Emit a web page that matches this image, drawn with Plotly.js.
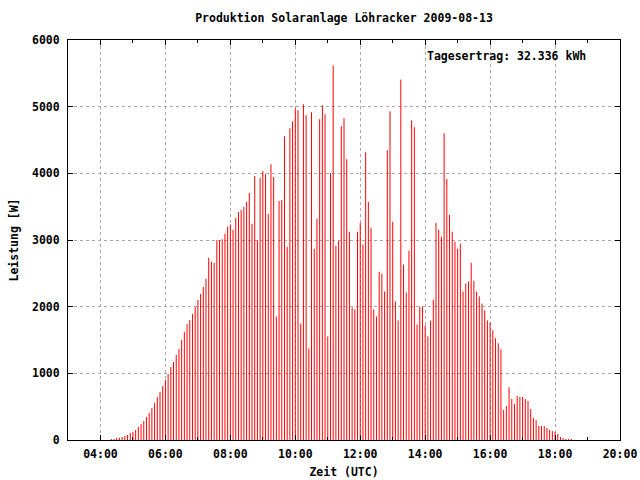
<!DOCTYPE html>
<html><head><meta charset="utf-8">
<script src="https://cdn.plot.ly/plotly-3.0.1.min.js"></script>
<style>html,body{margin:0;padding:0;background:#fff}#chart{width:640px;height:480px}</style>
</head><body><div id="chart"></div>
<script>
const day = '2009-08-13 ';
const times = [
'04:20','04:25','04:30','04:35','04:40','04:45','04:50','04:55',
'05:00','05:05','05:10','05:15','05:20','05:25','05:30','05:35','05:40','05:45','05:50','05:55',
'06:00','06:05','06:10','06:15','06:20','06:25','06:30','06:35','06:40','06:45','06:50','06:55',
'07:00','07:05','07:10','07:15','07:20','07:25','07:30','07:35','07:40','07:45','07:50','07:55',
'08:00','08:05','08:10','08:15','08:20','08:25','08:30','08:35','08:40','08:45','08:50','08:55',
'09:00','09:05','09:10','09:15','09:20','09:25','09:30','09:35','09:40','09:45','09:50','09:55',
'10:00','10:05','10:10','10:15','10:20','10:25','10:30','10:35','10:40','10:45','10:50','10:55',
'11:00','11:05','11:10','11:15','11:20','11:25','11:30','11:35','11:40','11:45','11:50','11:55',
'12:00','12:05','12:10','12:15','12:20','12:25','12:30','12:35','12:40','12:45','12:50','12:55',
'13:00','13:05','13:10','13:15','13:20','13:25','13:30','13:35','13:40','13:45','13:50','13:55',
'14:00','14:05','14:10','14:15','14:20','14:25','14:30','14:35','14:40','14:45','14:50','14:55',
'15:00','15:05','15:10','15:15','15:20','15:25','15:30','15:35','15:40','15:45','15:50','15:55',
'16:00','16:05','16:10','16:15','16:20','16:25','16:30','16:35','16:40','16:45','16:50','16:55',
'17:00','17:05','17:10','17:15','17:20','17:25','17:30','17:35','17:40','17:45','17:50','17:55',
'18:00','18:05','18:10','18:15','18:20','18:25','18:30'
];
const power = [
15,15,30,35,45,60,75,105,
120,150,195,240,285,345,405,480,555,645,720,810,
900,990,1095,1170,1275,1365,1500,1620,1740,1800,1890,1995,
2100,2190,2295,2420,2734,2674,2659,2998,2998,3013,3093,3197,
3232,3152,3332,3421,3451,3496,3571,3705,3242,3959,2998,3929,
4034,3989,3391,4138,3944,1853,3586,3601,4557,2898,4676,4781,
4975,4945,1748,5035,4870,1374,4915,2868,3317,4811,5020,4885,
1554,4004,5617,2913,2988,4706,4826,4213,3122,1987,1957,3122,
3257,2928,4318,3571,3182,1957,1853,2525,2495,2226,4348,4930,
3272,2077,1793,5408,2629,2211,2839,4796,4691,1733,1997,1997,
1718,1554,1793,2107,3257,3152,3048,4602,3914,3376,3122,2973,
2868,2943,2226,2346,2376,2659,2390,2226,2151,2047,1942,1793,
1766,1647,1527,1452,1362,449,509,793,614,539,659,644,
644,614,584,464,329,299,210,210,210,180,150,135,
120,90,45,30,15,15,15
];
const titleText = 'Produktion Solaranlage Löhracker 2009-08-13';
const xTitle = 'Zeit (UTC)';
const yTitle = 'Leistung [W]';
const noteText = 'Tagesertrag: 32.336 kWh';

const F = {family: '"DejaVu Sans Mono", "Liberation Mono", monospace', size: 11.5, color: '#000', weight: 'bold'};

const trace = {
  type: 'bar',
  x: times.map(t => day + t),
  y: power,
  width: 110000,
  marker: {color: 'rgba(255,0,0,0.999)', line: {width: 0}},
  hoverinfo: 'skip'
};

const axisCommon = {
  showline: true, linecolor: '#000', linewidth: 1, mirror: 'ticks',
  ticks: 'inside', tickcolor: '#000', tickwidth: 1, ticklen: 5,
  showgrid: true, gridcolor: '#a8a8a8', gridwidth: 1, griddash: '3px,3px',
  zeroline: false, tickfont: F
};

const layout = {
  width: 640, height: 480,
  margin: {l: 68, r: 20, t: 40, b: 40, pad: 0},
  paper_bgcolor: '#fff', plot_bgcolor: '#fff',
  showlegend: false,
  font: F,
  title: {text: titleText, font: F, x: 0.5, xref: 'paper', xanchor: 'center', y: 1 - 18/480, yanchor: 'middle'},
  xaxis: Object.assign({}, axisCommon, {
    type: 'date',
    range: [day + '03:00', day + '20:00'],
    tick0: day + '00:00', dtick: 7200000, tickformat: '%H:%M',
    ticklabelstandoff: 3,
    minor: {dtick: 3600000, tick0: day + '00:00', ticks: 'inside', ticklen: 3, tickcolor: '#000', showgrid: false},
    title: {text: xTitle, font: F, standoff: 8},
    automargin: false
  }),
  yaxis: Object.assign({}, axisCommon, {
    range: [0, 6000], tick0: 0, dtick: 1000,
    exponentformat: 'none', separatethousands: false,
    ticklabelstandoff: 5,
    title: {text: yTitle, font: F, standoff: 10},
    automargin: false
  }),
  annotations: [{
    text: noteText, xref: 'paper', yref: 'paper',
    x: (587 - 67.5) / 552, y: (440 - 56) / 400,
    xanchor: 'right', yanchor: 'middle', showarrow: false, font: F
  }]
};

Plotly.newPlot('chart', [trace], layout, {staticPlot: true, displayModeBar: false});
</script>
</body></html>
